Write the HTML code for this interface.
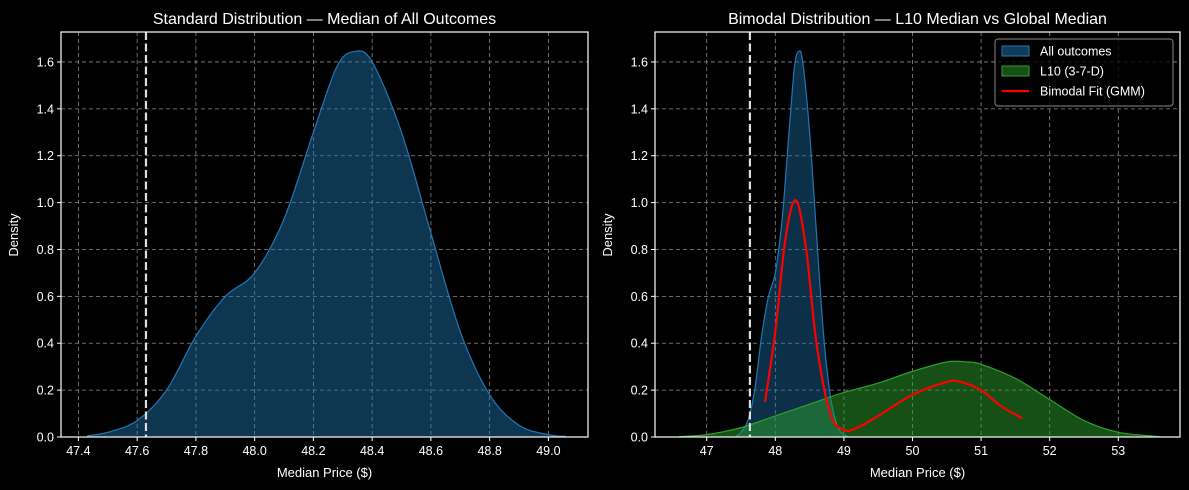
<!DOCTYPE html>
<html><head><meta charset="utf-8"><style>
body{margin:0;background:#000;}
svg{display:block;font-family:"Liberation Sans","DejaVu Sans",sans-serif;}
</style></head><body>
<svg id="chart" width="1189" height="490" viewBox="0 0 1189 490" xmlns="http://www.w3.org/2000/svg">
<rect width="1189" height="490" fill="#000"/>
</svg>
<script>
// ---- data ----
const leftTicksX = [47.4,47.6,47.8,48.0,48.2,48.4,48.6,48.8,49.0];
const rightTicksX = [47,48,49,50,51,52,53];
const ticksY = [0,0.2,0.4,0.6,0.8,1.0,1.2,1.4,1.6];
const allPrice = [47.43,47.5,47.6,47.7,47.8,47.9,48.0,48.1,48.2,48.28,48.34,48.4,48.5,48.6,48.7,48.8,48.9,49.0,49.06];
const allDens  = [0.005,0.02,0.07,0.2,0.43,0.6,0.7,0.93,1.3,1.58,1.645,1.6,1.3,0.87,0.45,0.18,0.05,0.01,0.003];
const l10Price = [46.6,47,47.5,48,48.5,49,49.5,50,50.5,50.8,51,51.5,52,52.5,53,53.6];
const l10Dens  = [0.002,0.01,0.04,0.09,0.14,0.19,0.23,0.28,0.32,0.32,0.31,0.25,0.16,0.07,0.02,0.002];
const gmmPrice = [47.85,48,48.15,48.3,48.45,48.6,48.8,49,49.2,49.5,50,50.5,50.7,51,51.3,51.6];
const gmmDens  = [0.15,0.45,0.85,1.01,0.8,0.4,0.1,0.03,0.04,0.09,0.18,0.235,0.235,0.2,0.13,0.08];
const medianLine = [47.63];

const NS="http://www.w3.org/2000/svg";
const svg=document.getElementById('chart');
function mk(tag,attrs,parent){const e=document.createElementNS(NS,tag);for(const k in attrs)e.setAttribute(k,attrs[k]);(parent||svg).appendChild(e);return e;}
const Y0=437, YS=234.4;
const yS=d=>Y0-d*YS;

function smoothPath(xs,ys,xf){
  const p=xs.map((x,i)=>[xf(x),yS(ys[i])]);
  let d=`M${p[0][0]},${p[0][1]}`;
  for(let i=0;i<p.length-1;i++){
    const p0=p[i-1]||p[i],p1=p[i],p2=p[i+1],p3=p[i+2]||p2;
    const c1=[p1[0]+(p2[0]-p0[0])/6,p1[1]+(p2[1]-p0[1])/6];
    const c2=[p2[0]-(p3[0]-p1[0])/6,p2[1]-(p3[1]-p1[1])/6];
    d+=` C${c1[0]},${c1[1]} ${c2[0]},${c2[1]} ${p2[0]},${p2[1]}`;
  }
  return {d,first:p[0][0],last:p[p.length-1][0]};
}

function axes(name,L,R,xf,xticks,fmt,title){
  const g=mk('g',{});
  
  
  xticks.forEach(v=>{const x=xf(v);
    const gl=mk('line',{x1:x,x2:x,y1:32,y2:437,stroke:'#888','stroke-dasharray':'4,3','stroke-width':0.8},g);
    
    mk('line',{x1:x,x2:x,y1:437,y2:441,stroke:'#fff'},g);
    const t=mk('text',{x:x,y:455,fill:'#fff','font-size':12.5,'text-anchor':'middle'},g);t.textContent=fmt(v);
    
  });
  ticksY.forEach(v=>{const y=yS(v);
    const gl=mk('line',{x1:L,x2:R,y1:y,y2:y,stroke:'#888','stroke-dasharray':'4,3','stroke-width':0.8},g);
    
    mk('line',{x1:L-4,x2:L,y1:y,y2:y,stroke:'#fff'},g);
    const t=mk('text',{x:L-7,y:y+4.5,fill:'#fff','font-size':12.5,'text-anchor':'end'},g);t.textContent=v.toFixed(1);
    
  });
  const xt=mk('text',{x:(L+R)/2,y:477,fill:'#fff','font-size':13,'text-anchor':'middle'},g);xt.textContent='Median Price ($)';
  
  const yt=mk('text',{x:0,y:0,fill:'#fff','font-size':13,'text-anchor':'middle',transform:`translate(${L-43},${235}) rotate(-90)`},g);yt.textContent='Density';
  
  const tt=mk('text',{x:(L+R)/2,y:24,fill:'#fff','font-size':16,'text-anchor':'middle'},g);tt.textContent=title;
  
  return g;
}
function frame(L,R){const f=mk('rect',{x:L,y:32,width:R-L,height:405,fill:'none',stroke:'#fff','stroke-width':1.2});
  }
function area(xs,ys,xf,fill,stroke,name,op){
  const s=smoothPath(xs,ys,xf);
  const a=mk('path',{d:s.d+` L${s.last},${Y0} L${s.first},${Y0} Z`,fill:fill,'fill-opacity':op,stroke:'none'});
  
  const l=mk('path',{d:s.d,fill:'none',stroke:stroke,'stroke-width':1.2});
  
}
function vline(x){const l=mk('line',{x1:x,x2:x,y1:32,y2:437,stroke:'#ddd','stroke-width':2.2,'stroke-dasharray':'8,3.5'});
  }

// Left
const xl=v=>78.4+(v-47.4)*293.75;
axes('left-panel',61,588,xl,leftTicksX,v=>v.toFixed(1),'Standard Distribution — Median of All Outcomes');
area(allPrice,allDens,xl,'#1f77b4','#1f77b4','all-outcomes-kde',0.45);
vline(xl(medianLine[0]));
frame(61,588);

// Right
const xr=v=>706.7+(v-47)*68.6;
axes('right-panel',655,1180,xr,rightTicksX,v=>String(v),'Bimodal Distribution — L10 Median vs Global Median');
area(allPrice,allDens,xr,'#1f77b4','#1f77b4','all-outcomes-kde-right',0.4);
area(l10Price,l10Dens,xr,'#2ca02c','#2ca02c','l10-kde',0.5);
const gm=smoothPath(gmmPrice,gmmDens,xr);
const gl=mk('path',{d:gm.d,fill:'none',stroke:'#ff0000','stroke-width':2.2});

vline(xr(medianLine[0]));
frame(655,1180);

// Legend
const lg=mk('g',{});

mk('rect',{x:995,y:39,width:178,height:67,rx:3,fill:'#000','fill-opacity':0.8,stroke:'#888'},lg);
const items=[['All outcomes','#1f77b4','patch'],['L10 (3-7-D)','#2ca02c','patch'],['Bimodal Fit (GMM)','#ff0000','line']];
items.forEach((it,i)=>{const y=51+i*20;
  if(it[2]==='patch'){mk('rect',{x:1002,y:y-5,width:27,height:10,fill:it[1],'fill-opacity':0.5,stroke:it[1]},lg);}
  else{mk('line',{x1:1002,x2:1029,y1:y,y2:y,stroke:it[1],'stroke-width':2.2},lg);}
  const t=mk('text',{x:1040,y:y+4.5,fill:'#fff','font-size':12.5},lg);t.textContent=it[0];
  
});
</script>
</body></html>
